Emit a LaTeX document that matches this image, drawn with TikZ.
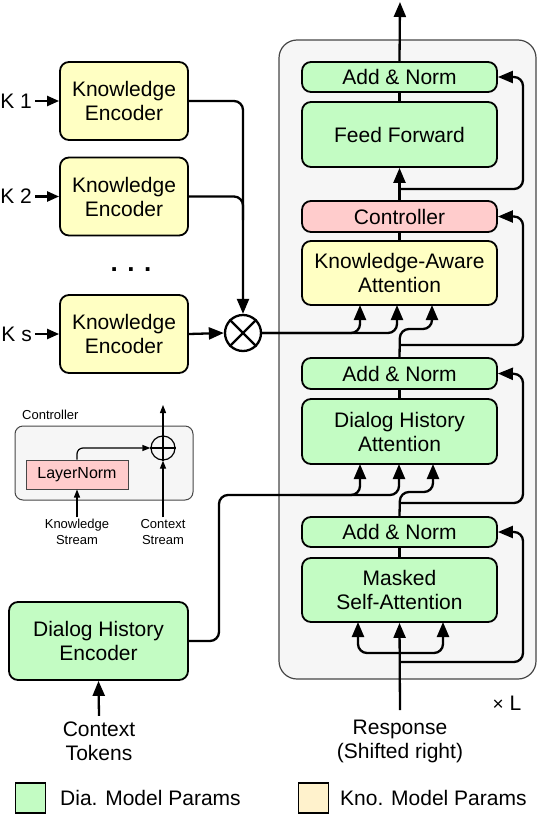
\documentclass[tikz,border=0pt]{standalone}
\usepackage{fontspec}
\setmainfont{Liberation Sans}
\usetikzlibrary{arrows.meta}
\definecolor{dgreen}{RGB}{195,252,195}
\definecolor{kyellow}{RGB}{255,255,195}
\definecolor{cpink}{RGB}{255,204,204}
\definecolor{lyellow}{RGB}{255,242,204}
\definecolor{cgray}{RGB}{246,246,246}
\definecolor{bgray}{RGB}{70,70,70}
\tikzset{
  blk/.style={draw=black, line width=1.8pt, rounded corners=9pt, align=center,
    inner sep=0pt, font=\fontsize{21}{24}\selectfont},
  greenblk/.style={blk, fill=dgreen},
  yellowblk/.style={blk, fill=kyellow},
  pinkblk/.style={blk, fill=cpink},
  wire/.style={line width=2.3pt, rounded corners=9pt},
  arr/.style={wire, -{Triangle[length=15pt,width=12pt]}},
  thinwire/.style={line width=1.2pt, rounded corners=6pt},
  thinarr/.style={thinwire, -{Triangle[length=8pt,width=6pt]}},
  lbl/.style={font=\fontsize{21}{24}\selectfont, align=center, inner sep=0pt},
  smalllbl/.style={font=\fontsize{13}{15.5}\selectfont, align=center, inner sep=0pt},
}
\begin{document}
\begin{tikzpicture}[x=1pt,y=-1pt]
\useasboundingbox (0,0) rectangle (538,814);

% container
\node[draw=bgray, line width=1.2pt, fill=cgray, rounded corners=18pt,
  minimum width=257pt, minimum height=639pt, inner sep=0pt] (cont) at (407.5,359.5) {};

% main column
\node[greenblk, minimum width=195pt, minimum height=30pt] (an3) at (399.5,77) {Add \& Norm};
\node[greenblk, minimum width=195pt, minimum height=65pt] (ff) at (399.5,134.5) {Feed Forward};
\node[pinkblk, minimum width=195pt, minimum height=31pt] (ctrl) at (399.5,216.5) {Controller};
\node[yellowblk, minimum width=195pt, minimum height=64pt] (kaa) at (399.5,273) {Knowledge-Aware\\Attention};
\node[greenblk, minimum width=195pt, minimum height=31pt] (an2) at (399.5,373.5) {Add \& Norm};
\node[greenblk, minimum width=195pt, minimum height=65pt] (dha) at (399.5,431.5) {Dialog History\\Attention};
\node[greenblk, minimum width=195pt, minimum height=30pt] (an1) at (399.5,532) {Add \& Norm};
\node[greenblk, minimum width=195pt, minimum height=64pt] (msa) at (399.5,590) {Masked\\Self-Attention};

% knowledge encoders
\node[yellowblk, minimum width=128pt, minimum height=78pt] (ke1) at (124,101) {Knowledge\\Encoder};
\node[yellowblk, minimum width=128pt, minimum height=78pt] (ke2) at (124,196.5) {Knowledge\\Encoder};
\node[yellowblk, minimum width=128pt, minimum height=78pt] (kes) at (124,334) {Knowledge\\Encoder};
\node[lbl, anchor=east] (k1) at (32,101) {K 1};
\node[lbl, anchor=east] (k2) at (32,196.5) {K 2};
\node[lbl, anchor=east] (ks) at (32,334) {K s};
\node[font=\fontsize{26}{26}\selectfont\bfseries, inner sep=0pt] (dots) at (131,270) {. . .};
\node[draw, line width=2.3pt, circle, minimum size=36pt, inner sep=0pt] (ot) at (243,333) {};
\draw[line width=2.3pt] (ot.north east) -- (ot.south west) (ot.north west) -- (ot.south east);

\draw[arr, -{Triangle[length=12pt,width=10pt]}] (k1.east) ++(3,0) -- (ke1.west);
\draw[arr, -{Triangle[length=12pt,width=10pt]}] (k2.east) ++(3,0) -- (ke2.west);
\draw[arr, -{Triangle[length=12pt,width=10pt]}] (ks.east) ++(3,0) -- (kes.west);

\draw[arr] (ke1.east) -- (243,101) -- (ot.north);
\draw[wire] (ke2.east) -- (243,196.5) -- (243,220);
\draw[arr] (kes.east) -- (ot.west);

% dialog history encoder
\node[greenblk, minimum width=179pt, minimum height=78pt] (dhe) at (98.5,641) {Dialog History\\Encoder};
\node[lbl] (ctx) at (99,741.5) {Context\\Tokens};
\draw[arr] (ctx.north) ++(0,-6) -- (dhe.south);

% response
\node[lbl] (resp) at (400,741.5) {Response\\(Shifted right)};
\coordinate (rtop) at (400,710);
\draw[arr] (rtop) -- (msa.south);
\node[lbl] (xl) at (507,703) {{\fontsize{19}{20}\selectfont ×} L};

% masked self-attention inputs
\coordinate (b1) at (400,653);
\draw[arr] (b1) -- (358,653) -- (358,622);
\draw[arr] (b1) -- (443,653) -- (443,622);
\coordinate (r1) at (400,662);
\draw[arr] (r1) -- (523,662) -- (523,532) -- (an1.east);
\draw[wire] (msa.north) -- (an1.south);

% dialog history attention inputs
\draw[arr] (dhe.east) -- (219,641) -- (219,495) -- (399,495) -- (399,464);
\coordinate (d1) at (300,495);
\draw[arr] (d1) -- (360,495) -- (360,464);
\draw[arr] (an1.north) -- (400,492) -- (433,492) -- (433,464);
\coordinate (r2) at (400,503);
\draw[arr] (r2) -- (523,503) -- (523,374) -- (an2.east);
\draw[wire] (dha.north) -- (an2.south);

% knowledge-aware attention inputs
\draw[arr] (ot.east) -- (397,333) -- (397,305);
\draw[arr] (ot.east) -- (360,333) -- (360,305);
\draw[arr] (an2.north) -- (400,329) -- (432,329) -- (432,305);
\coordinate (r3) at (400,345);
\draw[arr] (r3) -- (523,345) -- (523,216.5) -- (ctrl.east);
\draw[wire] (kaa.north) -- (ctrl.south);

% feed forward
\draw[arr] (ctrl.north) -- (ff.south);
\coordinate (r4) at (400,189);
\draw[arr] (r4) -- (523,189) -- (523,77) -- (an3.east);
\draw[wire] (ff.north) -- (an3.south);
\coordinate (out) at (400,2);
\draw[arr] (an3.north) -- (out);

% controller inset
\node[draw=bgray, line width=1pt, fill=cgray, rounded corners=8pt,
  minimum width=178pt, minimum height=74pt, inner sep=0pt] (cbox) at (104,463) {};
\node[smalllbl, anchor=west] (ctitle) at (22,415) {Controller};
\node[draw=bgray, line width=1pt, fill=cpink, minimum width=102pt, minimum height=29pt,
  inner sep=0pt, font=\fontsize{16}{18}\selectfont] (ln) at (77,474.5) {LayerNorm};
\node[draw, line width=1.2pt, circle, minimum size=24pt, inner sep=0pt] (op) at (163,448) {};
\draw[line width=1.2pt] (op.north) -- (op.south) (op.west) -- (op.east);
\coordinate (optop) at (163,405);
\draw[thinarr] (op.north) -- (optop);
\node[smalllbl] (kst) at (77,532) {Knowledge\\Stream};
\node[smalllbl] (cst) at (163,532) {Context\\Stream};
\draw[thinarr] (kst.north) ++(0,-2) -- (ln.south);
\draw[thinarr] (cst.north) ++(0,-2) -- (op.south);
\draw[thinarr] (ln.north) -- (77,448) -- (op.west);

% legend
\node[draw, line width=1.2pt, fill=dgreen, minimum size=30pt, inner sep=0pt] (lg1) at (30.5,798) {};
\node[lbl, anchor=west] (lt1) at (60,798) {Dia. Model Params};
\node[draw, line width=1.2pt, fill=lyellow, minimum size=30pt, inner sep=0pt] (lg2) at (313.5,798) {};
\node[lbl, anchor=west] (lt2) at (340,798) {Kno. Model Params};
\end{tikzpicture}
\end{document}
